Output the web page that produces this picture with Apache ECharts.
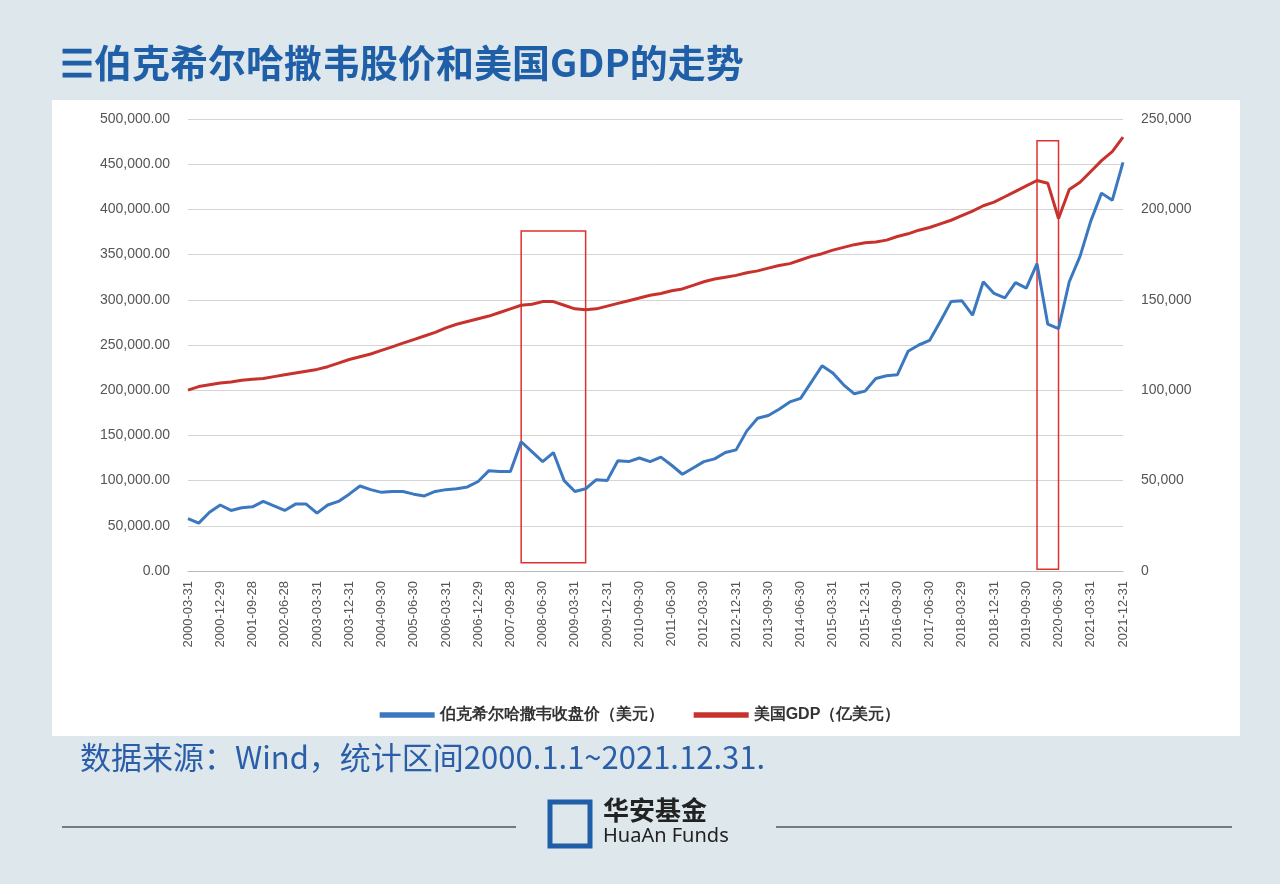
<!DOCTYPE html>
<html><head><meta charset="utf-8">
<script src="https://cdn.jsdelivr.net/npm/echarts@6/dist/echarts.min.js"></script>
<style>body{margin:0;background:#dde7ec}#c{width:1280px;height:884px}</style>
</head><body><div id="c"></div>
<script>
const quarterEnds = ['03-31','06-30','09-30','12-31'];
const categories = [];
for (let y = 2000; y <= 2021; y++) for (const q of quarterEnds) categories.push(y + '-' + q);
const tickLabels = ['2000-03-31','2000-12-29','2001-09-28','2002-06-28','2003-03-31','2003-12-31','2004-09-30','2005-06-30','2006-03-31','2006-12-29','2007-09-28','2008-06-30','2009-03-31','2009-12-31','2010-09-30','2011-06-30','2012-03-30','2012-12-31','2013-09-30','2014-06-30','2015-03-31','2015-12-31','2016-09-30','2017-06-30','2018-03-29','2018-12-31','2019-09-30','2020-06-30','2021-03-31','2021-12-31'];
const brkPrice = [58000,53000,65000,73000,67000,70000,71000,77000,72000,67000,74000,74000,64000,73000,77000,85000,
94000,90000,87000,88000,88000,85000,83000,88000,90000,91000,93000,99000,111000,110000,110000,143000,
132000,121000,131000,100000,88000,91000,101000,100000,122000,121000,125000,121000,126000,117000,107000,114000,
121000,124000,131000,134000,155000,169000,172000,179000,187000,191000,209000,227000,219000,206000,196000,199000,
213000,216000,217000,243000,250000,255000,276000,298000,299000,283000,320000,307000,302000,319000,313000,340000,
273000,268000,320000,348000,387000,418000,410000,452000];
const usGdp = [100000,102000,103000,104000,104500,105500,106000,106500,107500,108500,109500,110500,111500,113000,115000,117000,
118500,120000,122000,124000,126000,128000,130000,132000,134500,136500,138000,139500,141000,143000,145000,147000,
147500,149000,149000,147000,145000,144500,145000,146500,148000,149500,151000,152500,153500,155000,156000,158000,
160000,161500,162500,163500,165000,166000,167500,169000,170000,172000,174000,175500,177500,179000,180500,181500,
182000,183000,185000,186500,188500,190000,192000,194000,196500,199000,202000,204000,207000,210000,213000,216000,
214500,195000,211000,215000,221000,227000,232000,240000];
const chart = echarts.init(document.getElementById('c'));
const boxStyle = {color:'rgba(0,0,0,0)',borderColor:'#e03030',borderWidth:1.5};
chart.setOption({
  backgroundColor:'#dde7ec',
  graphic:[
    {type:'rect',shape:{x:52,y:100,width:1188,height:636},style:{fill:'#ffffff'},z:-10},
    {type:'text',left:60,top:44,style:{text:'☰伯克希尔哈撒韦股价和美国GDP的走势',font:'bold 38px "Noto Sans CJK SC"',fill:'#1f5fa8'}},
    {type:'text',left:80,top:742,style:{text:'数据来源：Wind，统计区间2000.1.1~2021.12.31.',font:'31px "Noto Sans CJK SC"',fill:'#2a5ea8'}},
    {type:'line',shape:{x1:62,y1:827,x2:516,y2:827},style:{stroke:'#555',lineWidth:1.5}},
    {type:'line',shape:{x1:776,y1:827,x2:1232,y2:827},style:{stroke:'#555',lineWidth:1.5}},
    {type:'rect',shape:{x:550,y:802,width:40,height:44},style:{fill:'none',stroke:'#1f5fa8',lineWidth:5}},
    {type:'text',left:603,top:797,style:{text:'华安基金',font:'bold 26px "Noto Sans CJK SC"',fill:'#222'}},
    {type:'text',left:603,top:826,style:{text:'HuaAn Funds',font:'20px "Noto Sans"',fill:'#222'}}
  ],
  legend:{top:702,left:'center',itemWidth:55,itemGap:30,textStyle:{fontSize:16,color:'#333',fontWeight:'bold'},
    data:[{name:'伯克希尔哈撒韦收盘价（美元）',icon:'path://M0,0H10V1H0Z'},{name:'美国GDP（亿美元）',icon:'path://M0,0H10V1H0Z'}]},
  grid:{left:188,right:157,top:119,bottom:313},
  xAxis:{type:'category',data:categories,boundaryGap:false,
    axisLine:{lineStyle:{color:'#bbb'}},axisTick:{show:false},
    axisLabel:{interval:2,rotate:90,color:'#555',fontSize:13,margin:10,
      formatter:(v,i)=>tickLabels[Math.round(i/3)]||v}},
  yAxis:[
    {type:'value',min:0,max:500000,interval:50000,axisLabel:{color:'#555',fontSize:14,margin:18,formatter:v=>v.toLocaleString('en-US',{minimumFractionDigits:2})},
      splitLine:{lineStyle:{color:'#d4d4d4'}}},
    {type:'value',min:0,max:250000,interval:50000,axisLabel:{color:'#555',fontSize:14,margin:18,formatter:v=>v.toLocaleString('en-US')},splitLine:{show:false}}
  ],
  series:[
    {name:'伯克希尔哈撒韦收盘价（美元）',type:'line',data:brkPrice,symbol:'none',lineStyle:{color:'#3c78c0',width:3},itemStyle:{color:'#3c78c0'},z:3,
      markArea:{silent:true,itemStyle:boxStyle,data:[
        [{xAxis:'2007-12-31',yAxis:376000},{xAxis:'2009-06-30',yAxis:9000}],
        [{xAxis:'2019-12-31',yAxis:476000},{xAxis:'2020-06-30',yAxis:2000}]]}},
    {name:'美国GDP（亿美元）',type:'line',yAxisIndex:1,data:usGdp,symbol:'none',lineStyle:{color:'#c8322d',width:3},itemStyle:{color:'#c8322d'},z:2}
  ]
});
</script></body></html>
